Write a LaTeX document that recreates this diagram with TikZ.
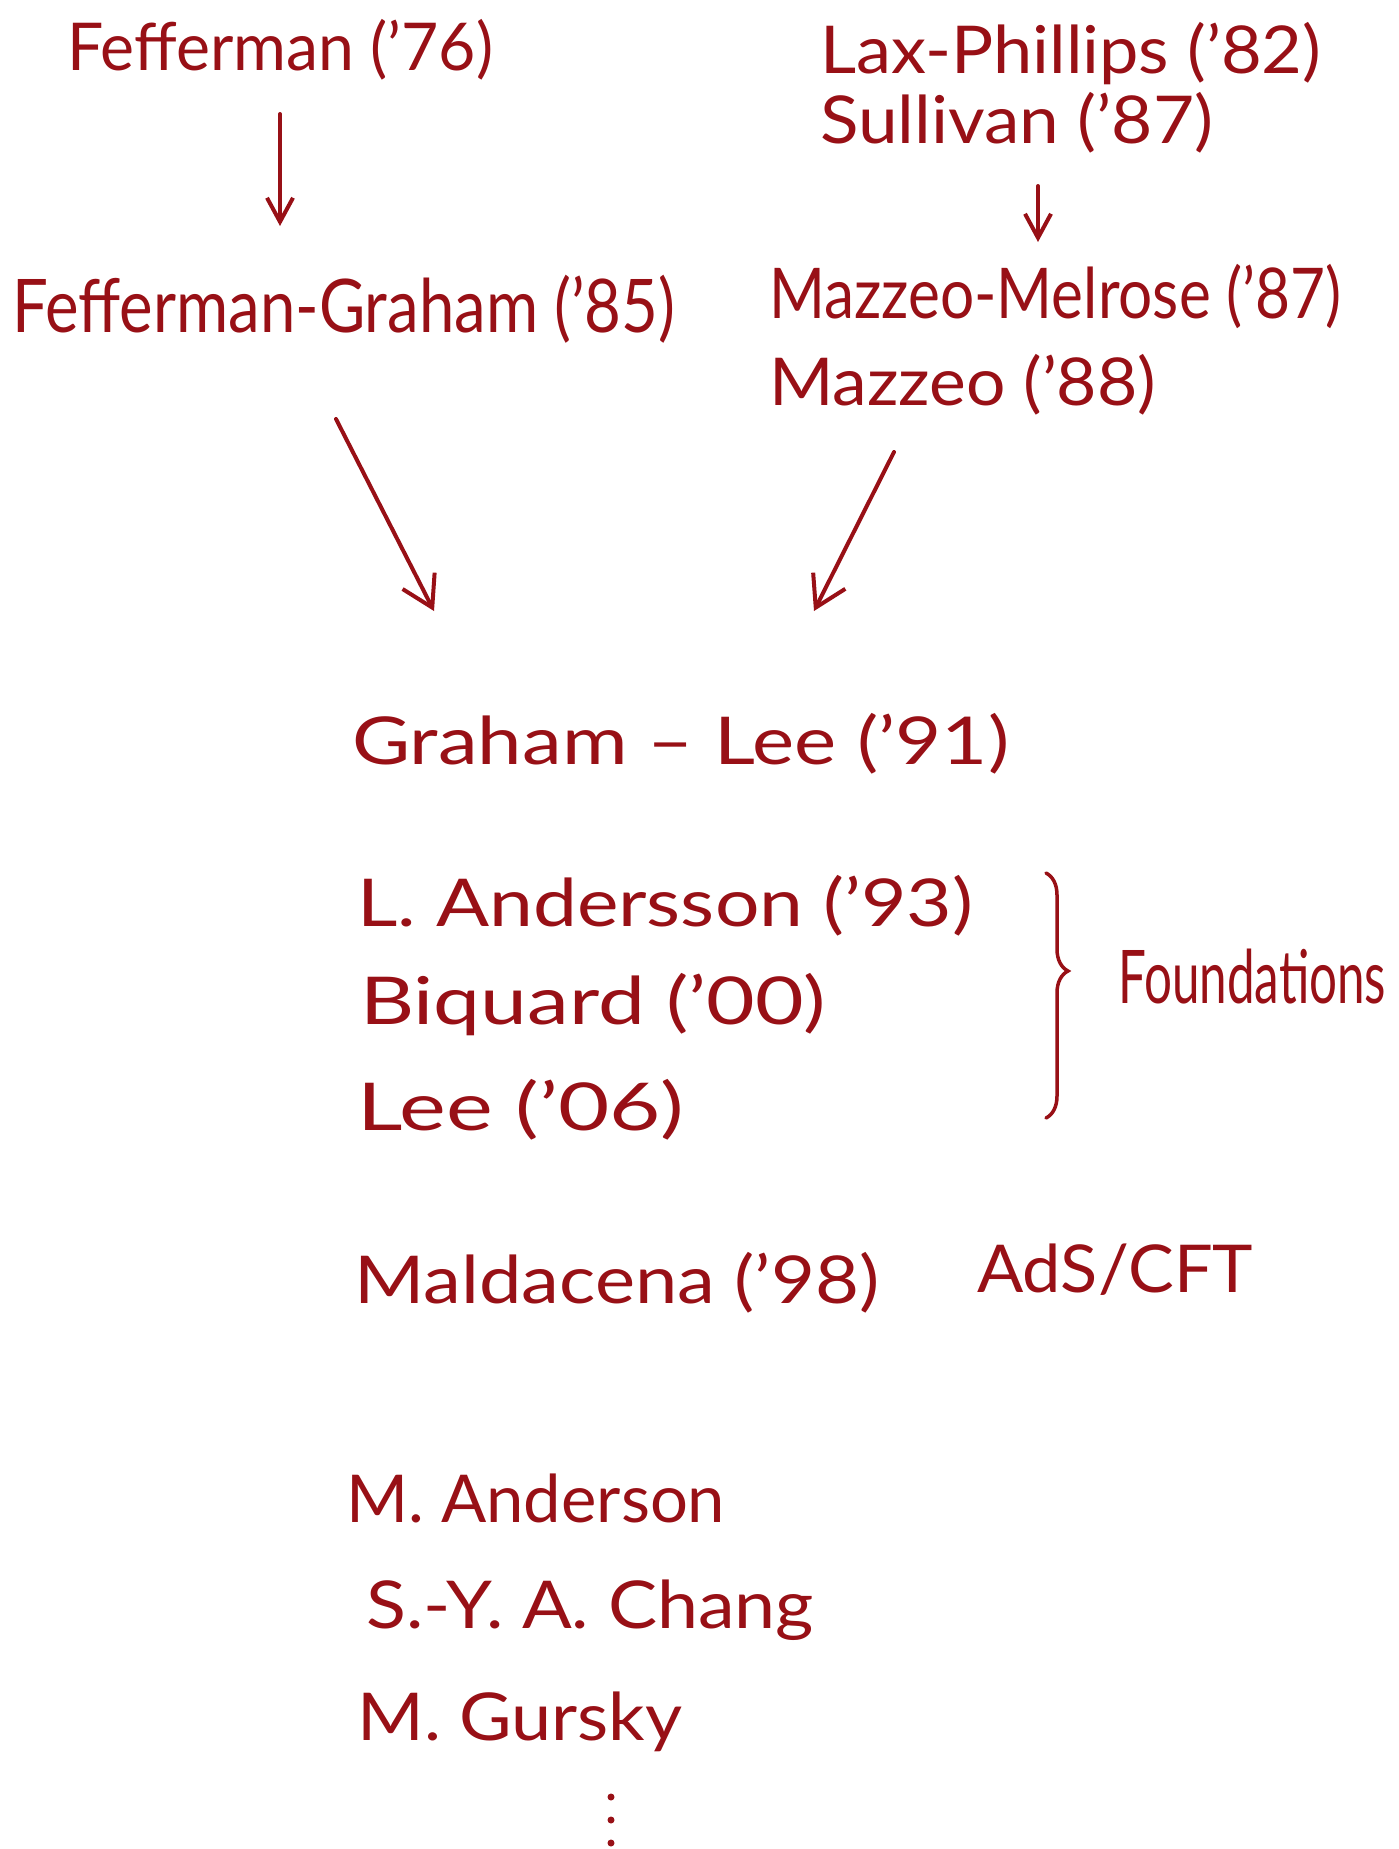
\documentclass[tikz,border=0pt]{standalone}
\usepackage{fontspec}
\setmainfont{Lato}
\usepackage{graphicx}
\usetikzlibrary{arrows.meta,decorations.pathreplacing}
\definecolor{hand}{RGB}{152,16,22}
\newcommand{\hw}[2]{\resizebox{#1pt}{\height}{#2}}
\tikzset{
  lbl/.style={anchor=base west,inner sep=0pt,text=hand,font=\fontsize{66}{70}\selectfont},
  big/.style={font=\fontsize{74}{78}\selectfont},
  arr/.style={draw=hand,line width=4pt,line cap=round,line join=round,
    -{Straight Barb[length=30pt,width=36pt,line width=4pt]}},
  arrs/.style={draw=hand,line width=4pt,line cap=round,line join=round,
    -{Straight Barb[length=24pt,width=26pt,line width=4pt]}},
}
\begin{document}
\begin{tikzpicture}[x=1pt,y=-1pt]
\useasboundingbox (0,0) rectangle (1399,1849);
\node[lbl] (f76) at (67,71) {\hw{426}{Fefferman ('76)}};
\node[lbl] (lp) at (820,74) {\hw{501}{Lax-Phillips ('82)}};
\node[lbl] (su) at (820,144) {\hw{393}{Sullivan ('87)}};
\node[lbl,big] (fg) at (12,332) {\hw{663}{Fefferman-Graham ('85)}};
\node[lbl,font=\fontsize{70}{74}\selectfont] (mm) at (769,318) {\hw{572}{Mazzeo-Melrose ('87)}};
\node[lbl] (mz) at (769,405) {\hw{387}{Mazzeo ('88)}};
\node[lbl] (gl) at (352,764) {\hw{657}{Graham – Lee ('91)}};
\node[lbl] (la) at (357,926) {\hw{616}{L. Andersson ('93)}};
\node[lbl] (bq) at (360,1024) {\hw{466}{Biquard ('00)}};
\node[lbl] (le) at (357,1130) {\hw{327}{Lee ('06)}};
\node[lbl,big] (fo) at (1118,1003) {\hw{268}{Foundations}};
\node[lbl] (ma) at (354,1303) {\hw{525}{Maldacena ('98)}};
\node[lbl] (ads) at (977,1292) {\hw{276}{AdS/CFT}};
\node[lbl] (man) at (346,1522) {\hw{379}{M. Anderson}};
\node[lbl] (ch) at (366,1628) {\hw{448}{S.-Y. A. Chang}};
\node[lbl] (gu) at (357,1740) {\hw{325}{M. Gursky}};
% arrow end points
\coordinate (a1s) at (280,114); \coordinate (a1e) at (280,226);
\coordinate (a2s) at (1038,186); \coordinate (a2e) at (1038,242);
\coordinate (a3s) at (336,419); \coordinate (a3e) at (434,611);
\coordinate (a4s) at (894,452); \coordinate (a4e) at (814,611);
\draw[arrs] (a1s) -- (a1e);
\draw[arrs] (a2s) -- (a2e);
\draw[arr] (a3s) -- (a3e);
\draw[arr] (a4s) -- (a4e);
% brace
\coordinate (bt) at (1046,873); \coordinate (bb) at (1046,1118);
\draw[hand,line width=3.5pt,line cap=round,decorate,
  decoration={brace,mirror,amplitude=22pt,aspect=0.6}] (bb) -- (bt);
% vertical dots
\foreach \yy in {1797,1820,1843}
  \fill[hand] (611,\yy) circle (3.5pt);
\end{tikzpicture}
\end{document}
